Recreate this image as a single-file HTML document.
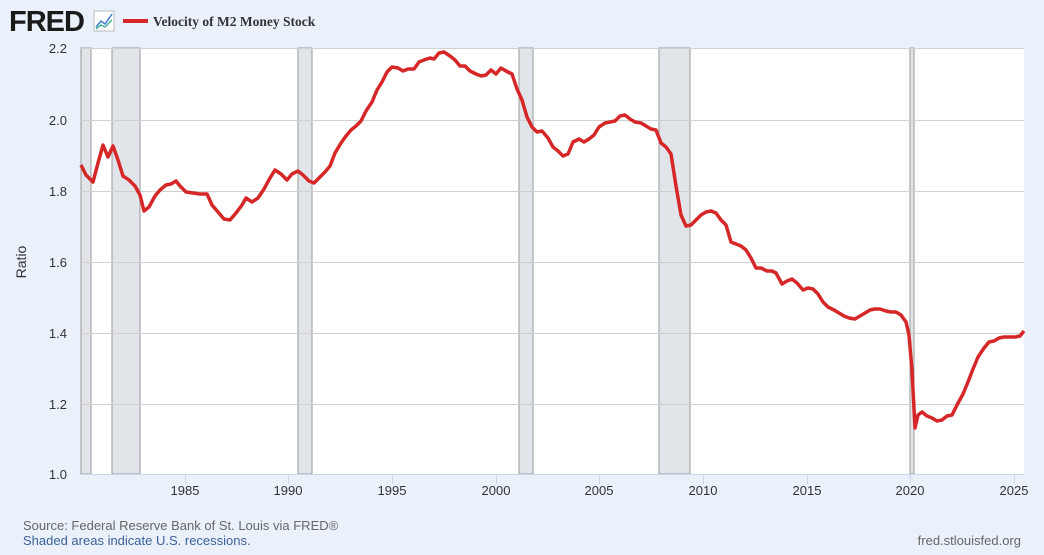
<!DOCTYPE html>
<html><head><meta charset="utf-8"><style>
body{margin:0;width:1044px;height:550px;background:#eaf1fa;font-family:"Liberation Sans",sans-serif;overflow:hidden}
</style></head><body>
<svg width="1044" height="550" xmlns="http://www.w3.org/2000/svg">
<rect x="0" y="0" width="1044" height="550" fill="#eaf1fa"/>
<text x="9" y="31" font-family="Liberation Sans" font-weight="bold" font-size="29" fill="#1a1a1a" letter-spacing="-1">FRED</text>
<rect x="94" y="11" width="20" height="20" fill="#fff" stroke="#bbb" stroke-width="1"/>
<polyline points="96,27 101,21 105,24 112,14" fill="none" stroke="#3b7fd6" stroke-width="1.5"/>
<polyline points="96,29 101,25 105,27 112,20" fill="none" stroke="#4ab39a" stroke-width="1.5"/>
<rect x="123" y="19" width="25" height="4" fill="#d62728"/>
<text x="153" y="26" font-family="Liberation Serif" font-weight="bold" font-size="13.5" fill="#333">Velocity of M2 Money Stock</text>
<rect x="81" y="48" width="943" height="426" fill="#fff"/>
<g fill="#e1e5ea" stroke="#999" stroke-width="1">
<rect x="81" y="48" width="10" height="426"/>
<rect x="112" y="48" width="28" height="426"/>
<rect x="298" y="48" width="14" height="426"/>
<rect x="519" y="48" width="14" height="426"/>
<rect x="659" y="48" width="31" height="426"/>
<rect x="910" y="48" width="4" height="426"/>
</g>
<g stroke="#d0d0d0" stroke-width="1">
<line x1="81" y1="48.5" x2="1024" y2="48.5"/>
<line x1="81" y1="120.5" x2="1024" y2="120.5"/>
<line x1="81" y1="191.5" x2="1024" y2="191.5"/>
<line x1="81" y1="262.5" x2="1024" y2="262.5"/>
<line x1="81" y1="333.5" x2="1024" y2="333.5"/>
<line x1="81" y1="404.5" x2="1024" y2="404.5"/>
</g>
<line x1="81" y1="474.5" x2="1024" y2="474.5" stroke="#ccd6eb" stroke-width="1"/>
<g stroke="#ccd6eb"><line x1="185.5" y1="474" x2="185.5" y2="484"/><line x1="288.5" y1="474" x2="288.5" y2="484"/><line x1="392.5" y1="474" x2="392.5" y2="484"/><line x1="496.5" y1="474" x2="496.5" y2="484"/><line x1="599.5" y1="474" x2="599.5" y2="484"/><line x1="703.5" y1="474" x2="703.5" y2="484"/><line x1="807.5" y1="474" x2="807.5" y2="484"/><line x1="910.5" y1="474" x2="910.5" y2="484"/><line x1="1014.5" y1="474" x2="1014.5" y2="484"/></g>
<g font-size="13" fill="#333" text-anchor="end">
<text x="67" y="53">2.2</text><text x="67" y="125">2.0</text><text x="67" y="196">1.8</text><text x="67" y="267">1.6</text><text x="67" y="338">1.4</text><text x="67" y="409">1.2</text><text x="67" y="479">1.0</text>
</g>
<g font-size="13" fill="#333" text-anchor="middle">
<text x="185" y="495">1985</text><text x="288" y="495">1990</text><text x="392" y="495">1995</text><text x="496" y="495">2000</text><text x="599" y="495">2005</text><text x="703" y="495">2010</text><text x="807" y="495">2015</text><text x="910" y="495">2020</text><text x="1014" y="495">2025</text>
</g>
<text transform="translate(26,262) rotate(-90)" font-size="14" fill="#333" text-anchor="middle">Ratio</text>
<polyline fill="none" stroke="#d62728" stroke-width="3.5" stroke-linejoin="round" points="81,165 86,175 93,182 98,163 103,145 108,157 113,146 118,160 123,176 129,180 135,186 140,195 144,211 149,207 155,196 160,190 166,185 171,184 176,181 180,186 186,192 193,193 200,194 207,194 212,205 218,212 224,219 230,220 236,213 242,205 246,198 252,202 258,198 264,189 270,178 275,170 281,174 287,180 292,174 298,171 303,175 309,181 314,183 319,178 325,172 330,166 335,153 341,143 346,136 351,130 356,126 361,121 366,111 372,102 377,90 382,82 387,72 392,67 398,68 403,71 408,69 414,69 419,62 424,60 430,58 434,59 439,53 444,52 450,56 455,60 460,66 465,66 470,71 476,74 481,76 486,75 491,70 496,74 501,68 506,71 512,74 517,89 522,100 527,117 532,127 537,132 542,131 548,138 553,147 558,151 563,156 568,154 573,142 579,139 584,142 589,139 594,135 599,127 605,123 610,122 615,121 620,116 625,115 630,119 635,122 641,123 646,126 651,129 656,130 661,143 666,147 671,154 676,186 681,215 686,226 691,225 696,220 701,215 706,212 711,211 716,213 721,220 726,225 731,242 736,244 741,246 746,250 751,258 756,268 761,268 767,271 772,271 776,273 782,284 787,281 792,279 797,283 803,290 808,288 813,289 818,294 823,302 828,307 834,310 839,313 844,316 849,318 855,319 860,316 865,313 870,310 875,309 880,309 886,311 891,312 896,312 901,315 906,322 909,335 912,370 915,428 918,415 922,412 927,416 932,418 937,421 942,420 947,416 952,415 957,405 963,394 968,382 973,369 978,357 984,348 989,342 994,341 999,338 1004,337 1010,337 1015,337 1020,336 1024,331"/>
<text x="23" y="530" font-size="13" fill="#666">Source: Federal Reserve Bank of St. Louis via FRED®</text>
<text x="23" y="545" font-size="13" fill="#3c6198">Shaded areas indicate U.S. recessions.</text>
<text x="1021" y="545" font-size="13" fill="#666" text-anchor="end">fred.stlouisfed.org</text>
</svg>
</body></html>
